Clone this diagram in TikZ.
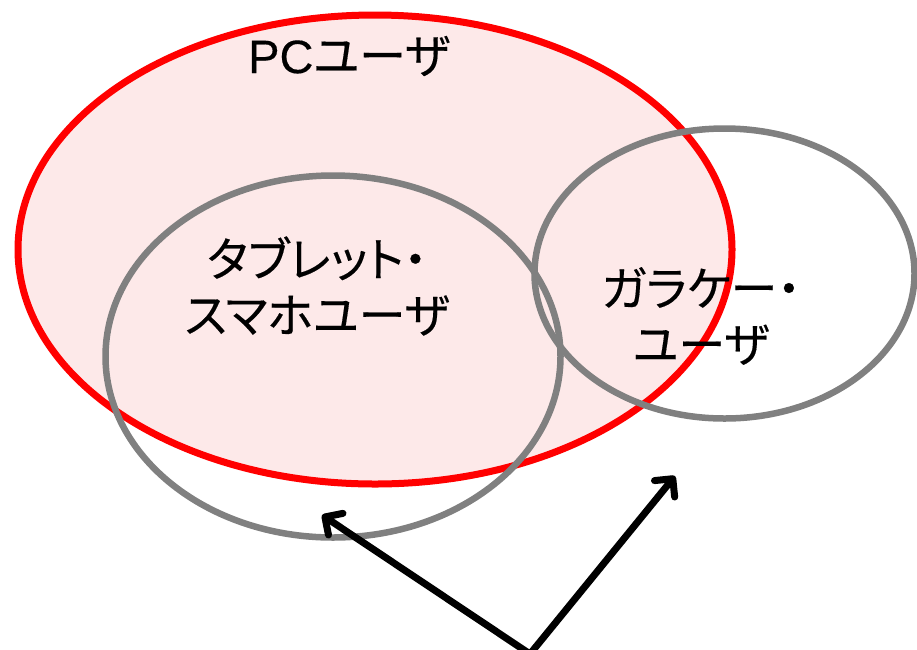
\documentclass[tikz,border=0pt]{standalone}
\usepackage{fontspec}
\setmainfont{Liberation Sans}[FakeBold=0.3]
\newfontfamily\jp[RawFeature=+palt,FakeBold=0.3]{Noto Sans CJK JP}
\usetikzlibrary{shapes.geometric,arrows.meta}
\definecolor{pcpink}{RGB}{253,233,233}
\definecolor{setgray}{RGB}{128,128,128}

\begin{document}
\begin{tikzpicture}[x=1pt,y=-1pt,
	setline/.style={ellipse,draw,inner sep=0pt,line width=6.5pt},
	setlabel/.style={font=\fontsize{47}{56}\selectfont,align=center,inner sep=0pt},
	pointer/.style={line width=7pt,line cap=round,-{Straight Barb[length=13pt,width=26pt,line cap=round,line join=round]}}]
	\useasboundingbox (0,0) rectangle (917,649);
	
	% sets
	\node [setline,red,line width=7pt,fill=pcpink,minimum width=714pt,minimum height=469pt] (pc) at (375,249.5) {};
	\node [setline,setgray,minimum width=455pt,minimum height=362pt] (tab) at (333,356.5) {};
	\node [setline,setgray,minimum width=380pt,minimum height=290pt] (gara) at (724.5,273.5) {};
	
	% labels
	\node [setlabel] (pclabel) at (349,56) {PC{\jp ユーザ}};
	\node [setlabel] (tablabel) at (317,286) {\jp タブレット・\\\jp スマホユーザ};
	\node [setlabel] (garalabel) at (701,316) {\jp ガラケー・\\\jp ユーザ};
	
	% arrows
	\coordinate (src) at (530,654);
	\coordinate (tabtip) at (322,515);
	\coordinate (garatip) at (675,476);
	\draw [pointer] (src) -- (tabtip);
	\draw [pointer] (src) -- (garatip);
\end{tikzpicture}
\end{document}
